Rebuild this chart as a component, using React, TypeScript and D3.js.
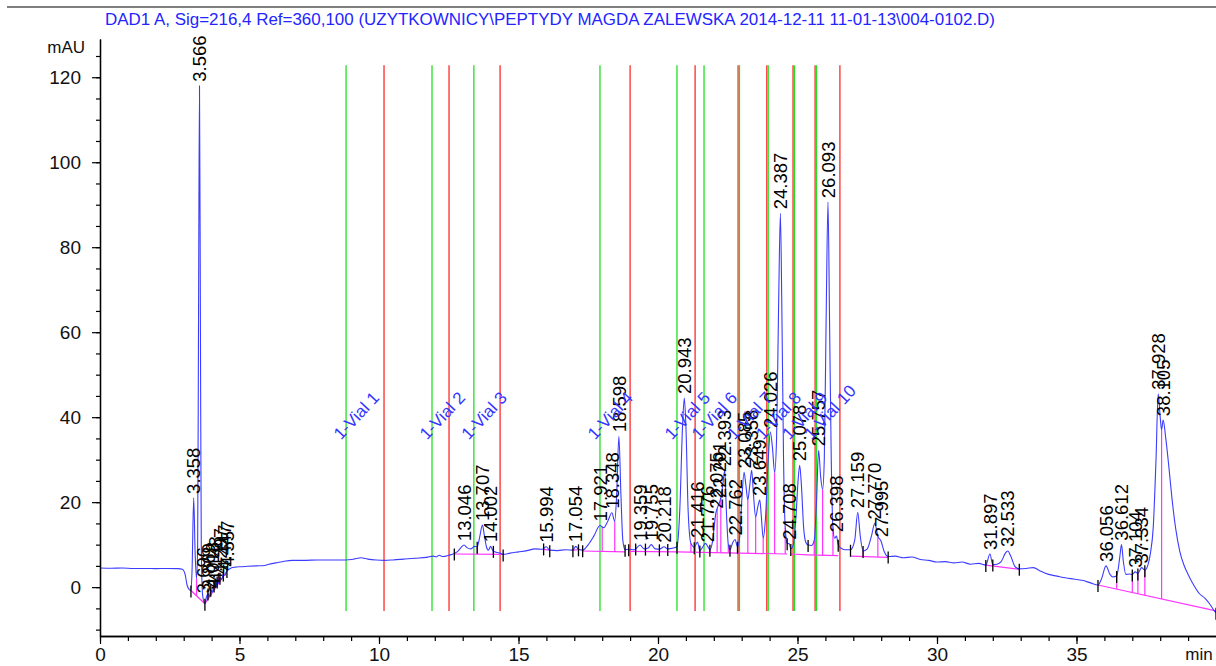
import React, { useEffect, useRef } from 'react'
import * as d3 from 'd3'

const title = "DAD1 A, Sig=216,4 Ref=360,100 (UZYTKOWNICY\\PEPTYDY MAGDA ZALEWSKA 2014-12-11 11-01-13\\004-0102.D)"

// detector trace, [min, mAU]
const trace: [number, number][] = [
    [0.0, 4.5], [0.4, 4.45], [0.8, 4.5], [1.2, 4.4], [1.6, 4.4], [2.0, 4.35], [2.4, 4.4], [2.8, 4.35], [2.95, 4.2],
    [3.05, 3.0], [3.12, 0.5], [3.2, -0.6], [3.26, -0.8], [3.3, 4], [3.358, 21], [3.41, 8], [3.46, 2], [3.5, 10],
    [3.53, 60], [3.566, 118], [3.6, 60], [3.63, 10], [3.68, -2], [3.76, -3.9], [3.82, -2.2], [3.87, -1.5],
    [3.92, -2.3], [3.97, -0.6], [4.02, -1.2], [4.09, 0.4], [4.14, 0], [4.2, 1.3], [4.26, 0.9], [4.3, 2.2],
    [4.36, 1.8], [4.42, 3.0], [4.48, 2.8], [4.55, 3.8], [4.7, 4.5], [4.85, 4.7], [5.0, 4.8], [5.3, 4.9],
    [5.6, 5.0], [5.9, 5.1], [6.05, 5.4], [6.3, 5.7], [6.6, 6.1], [6.9, 6.3], [7.3, 6.3], [7.8, 6.4], [8.3, 6.4],
    [8.8, 6.4], [9.1, 6.6], [9.35, 6.9], [9.6, 6.6], [9.9, 6.4], [10.2, 6.3], [10.5, 6.4], [10.9, 6.6],
    [11.3, 6.8], [11.7, 7.0], [11.95, 7.3], [12.05, 7.1], [12.15, 7.5], [12.3, 7.2], [12.5, 7.5], [12.7, 7.9],
    [12.85, 8.6], [12.95, 9.4], [13.05, 9.9], [13.15, 9.3], [13.3, 9.0], [13.42, 9.6], [13.52, 9.5], [13.6, 11.5],
    [13.707, 14.6], [13.78, 12], [13.85, 9.5], [13.92, 8.7], [14.002, 9.6], [14.08, 8.6], [14.2, 8.2], [14.35, 8.0],
    [14.45, 7.7], [14.7, 8.0], [15.0, 8.3], [15.3, 8.6], [15.6, 9.0], [15.85, 8.9], [15.994, 9.5], [16.12, 8.7],
    [16.4, 8.6], [16.7, 8.8], [16.95, 8.7], [17.054, 9.6], [17.15, 8.9], [17.3, 8.7], [17.5, 10], [17.7, 12],
    [17.921, 14.5], [18.05, 14], [18.2, 15.5], [18.348, 17.5], [18.45, 15.5], [18.52, 22], [18.598, 35.5],
    [18.67, 22], [18.74, 11], [18.82, 8.8], [18.95, 8.9], [19.15, 8.8], [19.359, 9.9], [19.5, 9.0], [19.65, 9.2],
    [19.755, 10.0], [19.9, 9.0], [20.05, 8.9], [20.218, 9.5], [20.35, 9.0], [20.55, 9.2], [20.68, 9.5], [20.78, 18],
    [20.88, 38], [20.943, 44.5], [21.0, 38], [21.08, 18], [21.18, 10.3], [21.3, 9.4], [21.416, 10.6], [21.5, 8.6],
    [21.6, 9.4], [21.7, 10.3], [21.78, 9.6], [21.86, 8.8], [21.95, 10.6], [22.075, 17.5], [22.15, 19], [22.25, 21],
    [22.32, 24], [22.393, 27.5], [22.45, 18], [22.52, 10], [22.58, 8.8], [22.68, 10.5], [22.762, 11.2], [22.85, 9.5],
    [22.93, 12], [23.0, 20], [23.085, 27], [23.15, 24], [23.22, 20.5], [23.29, 24], [23.358, 27.5], [23.42, 22],
    [23.5, 16.5], [23.58, 19], [23.649, 20.5], [23.7, 17], [23.77, 11.5], [23.85, 16], [23.95, 30], [24.026, 36.5],
    [24.1, 33], [24.18, 27], [24.25, 35], [24.32, 65], [24.387, 88], [24.44, 65], [24.5, 30], [24.56, 14],
    [24.63, 10.3], [24.708, 10.2], [24.76, 9.0], [24.85, 10], [24.95, 17], [25.02, 25], [25.078, 28.7], [25.14, 24],
    [25.22, 14], [25.3, 10.5], [25.38, 9.9], [25.5, 9.8], [25.6, 11], [25.68, 20], [25.757, 32.2], [25.83, 26],
    [25.9, 23], [25.96, 30], [26.03, 65], [26.093, 90.6], [26.15, 62], [26.21, 30], [26.27, 14], [26.33, 11.5],
    [26.398, 12], [26.46, 10], [26.55, 9.2], [26.7, 8.8], [26.9, 8.8], [27.05, 11], [27.159, 17.6], [27.25, 12],
    [27.35, 8.5], [27.5, 9], [27.65, 12], [27.77, 15], [27.88, 12], [27.995, 10.8], [28.1, 8.5], [28.25, 7.2],
    [28.5, 7.3], [28.8, 6.9], [29.1, 7.1], [29.4, 6.5], [29.7, 6.3], [30.0, 5.9], [30.3, 6.0], [30.6, 5.7],
    [30.9, 5.9], [31.2, 5.4], [31.5, 5.6], [31.75, 5.2], [31.897, 7.8], [32.0, 5.3], [32.15, 5.4], [32.3, 6.0],
    [32.45, 8.0], [32.533, 8.5], [32.65, 7.2], [32.8, 4.8], [32.95, 4.3], [33.2, 4.4], [33.45, 4.6], [33.7, 3.8],
    [34.0, 3.0], [34.3, 2.6], [34.6, 2.2], [34.9, 1.9], [35.2, 1.6], [35.5, 1.0], [35.77, 0.5], [35.9, 2.0],
    [36.056, 5.0], [36.2, 3.0], [36.3, 2.4], [36.44, 2.6], [36.55, 7], [36.612, 10], [36.68, 6], [36.77, 3],
    [36.9, 3.1], [37.0, 3.0], [37.104, 3.6], [37.2, 3.2], [37.334, 4.6], [37.45, 4.0], [37.55, 5], [37.65, 8],
    [37.75, 14], [37.85, 30], [37.928, 45.5], [38.0, 40], [38.05, 37], [38.105, 39.3], [38.2, 35], [38.3, 29],
    [38.42, 21], [38.55, 14], [38.7, 8.5], [38.85, 5.2], [39.0, 3], [39.2, 0.5], [39.4, -1.5], [39.6, -2.6],
    [39.8, -4.2], [39.92, -5.4], [40, -6]
]

// retention times printed over the peaks
const peakTimes = [
    3.358, 3.566, 3.696, 3.869, 4.018, 4.148, 4.297, 4.447, 4.557,
    13.046, 13.707, 14.002, 15.994, 17.054, 17.921, 18.348, 18.598, 19.359, 19.755, 20.218,
    20.943, 21.416, 21.776, 22.075, 22.201, 22.393, 22.762, 23.085, 23.358, 23.649, 24.026,
    24.387, 24.708, 25.078, 25.757, 26.093, 26.398, 27.159, 27.770, 27.995,
    31.897, 32.533, 36.056, 36.612, 37.104, 37.334, 37.928, 38.105
]

// fraction collector events
const greenEvents = [8.82, 11.9, 13.4, 17.92, 20.68, 21.65, 22.92, 23.95, 24.89, 25.68]
const redEvents = [10.18, 12.51, 14.34, 19.0, 21.33, 22.87, 23.9, 24.84, 25.63, 26.52]
const vialLabels = ["1-Vial 1", "1-Vial 2", "1-Vial 3", "1-Vial 4", "1-Vial 5",
    "1-Vial 6", "1-Vial 7", "1-Vial 8", "1-Vial 9", "1-Vial 10"]

// integration baselines [t0, v0, t1, v1]
const baselines: [number, number, number, number][] = [
    [3.26, -0.8, 3.76, -3.9], [3.76, -3.9, 4.55, 3.8], [12.7, 7.8, 14.45, 7.7],
    [15.9, 8.9, 16.12, 8.7], [16.95, 8.7, 17.15, 8.8], [17.3, 8.5, 18.82, 8.3],
    [18.95, 8.4, 20.68, 8.3], [20.68, 8.3, 24.63, 7.8], [24.76, 7.8, 25.38, 7.6],
    [25.38, 7.6, 26.46, 7.4], [26.9, 7.3, 28.25, 7.0], [31.75, 5.2, 32.95, 4.2],
    [35.77, 0.5, 40, -5.6]
]
const dropTimes = [3.46, 3.87, 3.97, 4.09, 4.2, 4.3, 4.42, 13.52, 14.1, 18.0, 18.45, 21.18, 21.5, 21.86,
    22.12, 22.25, 22.52, 22.85, 23.22, 23.5, 23.77, 24.18, 24.56, 25.6, 25.9, 26.27, 27.35, 27.88,
    32.0, 36.44, 37.0, 37.2, 37.45, 38.05]
const tickTimes = [3.26, 3.76, 3.87, 3.97, 4.09, 4.2, 4.3, 4.42, 4.55, 12.7, 13.52, 14.1, 14.45, 15.9,
    16.12, 16.95, 17.15, 17.3, 18.82, 18.95, 19.2, 19.55, 20.05, 20.35, 20.68, 21.3, 21.5, 21.86, 22.58,
    22.85, 24.63, 24.76, 25.38, 26.46, 26.9, 27.35, 28.25, 31.75, 32.0, 32.95, 35.77, 36.44, 37.0, 37.2,
    37.45, 40]

const xLabels = [0, 5, 10, 15, 20, 25, 30, 35]
const yLabels = [0, 20, 40, 60, 80, 100, 120]

const FONT = "'Liberation Sans', Arial, sans-serif"

export default function App() {
    const svgRef = useRef<SVGSVGElement>(null)

    useEffect(() => {
        var svg = d3.select(svgRef.current)
        svg.selectAll("*").remove()

        var x = d3.scaleLinear().domain([0, 40]).range([100, 1216])
        var y = d3.scaleLinear().domain([-11.5, 129]).range([636, 39])

        var bis = d3.bisector((d: [number, number]) => d[0]).left
        var at = function (t: number): number {
            var i = bis(trace, t)
            if (i <= 0) return trace[0][1]
            if (i >= trace.length) return trace[trace.length - 1][1]
            var a = trace[i - 1], b = trace[i]
            return a[1] + (b[1] - a[1]) * (t - a[0]) / (b[0] - a[0])
        }
        var baseAt = function (t: number): number {
            var seg = baselines.find(s => t >= s[0] && t <= s[2])
            if (!seg) return at(t)
            return seg[1] + (seg[3] - seg[1]) * (t - seg[0]) / (seg[2] - seg[0])
        }

        // top rule + title
        svg.append("line").attr("x1", 7).attr("x2", 1216).attr("y1", 7).attr("y2", 7)
            .attr("stroke", "#000").attr("stroke-width", 1.2)
        svg.append("text").attr("x", 105).attr("y", 25).text(title)
            .attr("textLength", 890).attr("lengthAdjust", "spacingAndGlyphs")
            .style("font", "16px " + FONT).attr("fill", "#2424ff")

        // event lines
        var evTop = y(122.8), evBot = y(-5.6)
        svg.append("g").selectAll("line").data(redEvents).join("line")
            .attr("x1", d => x(d)).attr("x2", d => x(d)).attr("y1", evTop).attr("y2", evBot)
            .attr("stroke", "#ff2a2a").attr("stroke-width", 1.3)
        svg.append("g").selectAll("line").data(greenEvents).join("line")
            .attr("x1", d => x(d)).attr("x2", d => x(d)).attr("y1", evTop).attr("y2", evBot)
            .attr("stroke", "#22e022").attr("stroke-width", 1.3)

        // integration baselines and drop lines
        svg.append("g").selectAll("line").data(baselines).join("line")
            .attr("x1", d => x(d[0])).attr("y1", d => y(d[1]))
            .attr("x2", d => x(d[2])).attr("y2", d => y(d[3]))
            .attr("stroke", "#ff33ff").attr("stroke-width", 1.2)
        svg.append("g").selectAll("line").data(dropTimes).join("line")
            .attr("x1", d => x(d)).attr("x2", d => x(d))
            .attr("y1", d => y(baseAt(d))).attr("y2", d => y(at(d)))
            .attr("stroke", "#ff33ff").attr("stroke-width", 1.2)

        // the trace
        var line = d3.line<[number, number]>()
            .x(d => x(d[0])).y(d => y(d[1]))
            .curve(d3.curveMonotoneX)
        svg.append("path").attr("d", line(trace))
            .attr("fill", "none").attr("stroke", "#3c3cff").attr("stroke-width", 1.1)

        // peak start / end marks
        svg.append("g").selectAll("line").data(tickTimes).join("line")
            .attr("x1", d => x(d)).attr("x2", d => x(d))
            .attr("y1", d => y(at(d)) - 5).attr("y2", d => y(at(d)) + 7)
            .attr("stroke", "#000").attr("stroke-width", 1.3)

        // axes
        var yMinor = d3.axisLeft(y).tickValues(d3.range(-10, 126, 5)).tickSize(4).tickFormat(() => "").tickSizeOuter(0)
        var yAxis = d3.axisLeft(y).tickValues(yLabels).tickSize(8).tickPadding(11).tickSizeOuter(0)
            .tickFormat(d3.format("d"))
        var gy = svg.append("g").attr("transform", "translate(100,0)")
        gy.call(yMinor)
        gy.append("g").call(yAxis)
        var xMinor = d3.axisBottom(x).tickValues(d3.range(0, 40, 1)).tickSize(5).tickFormat(() => "").tickSizeOuter(0)
        var xAxis = d3.axisBottom(x).tickValues(xLabels).tickSize(8).tickPadding(4).tickSizeOuter(0)
            .tickFormat(d3.format("d"))
        var gx = svg.append("g").attr("transform", "translate(0,636)")
        gx.call(xMinor)
        gx.append("g").call(xAxis)
        svg.selectAll(".domain").attr("stroke", "#000").attr("stroke-width", 1.3)
        svg.selectAll(".tick line").attr("stroke", "#000").attr("stroke-width", 1.2)
        svg.selectAll(".tick text").style("font", "19px " + FONT).attr("fill", "#111")

        svg.append("text").attr("x", 1199).attr("y", 660).attr("text-anchor", "middle").text("min")
            .style("font", "17px " + FONT).attr("fill", "#111")
        svg.append("text").attr("x", 85).attr("y", 53).attr("text-anchor", "end").text("mAU")
            .style("font", "17px " + FONT).attr("fill", "#111")

        // peak retention labels
        var fmt = d3.format(".3f")
        svg.append("g").selectAll("text").data(peakTimes).join("text")
            .attr("transform", d => "translate(" + x(d) + "," + (y(at(d)) - 4) + ") rotate(-90)")
            .attr("dy", "0.36em")
            .text(d => fmt(d))
            .style("font", "18.5px " + FONT).attr("fill", "#000")

        // vial labels
        svg.append("g").selectAll("text").data(vialLabels).join("text")
            .attr("transform", (d, i) => "translate(" + (x(greenEvents[i]) - 5) + "," + y(34.5) + ") rotate(-47)")
            .text(d => d)
            .style("font", "17px " + FONT).attr("fill", "#3434ff")
    }, [])

    return (
        <svg ref={svgRef} width={1216} height={666}
            style={{ position: 'absolute', left: 0, top: 0, background: '#fff' }} />
    )
}
